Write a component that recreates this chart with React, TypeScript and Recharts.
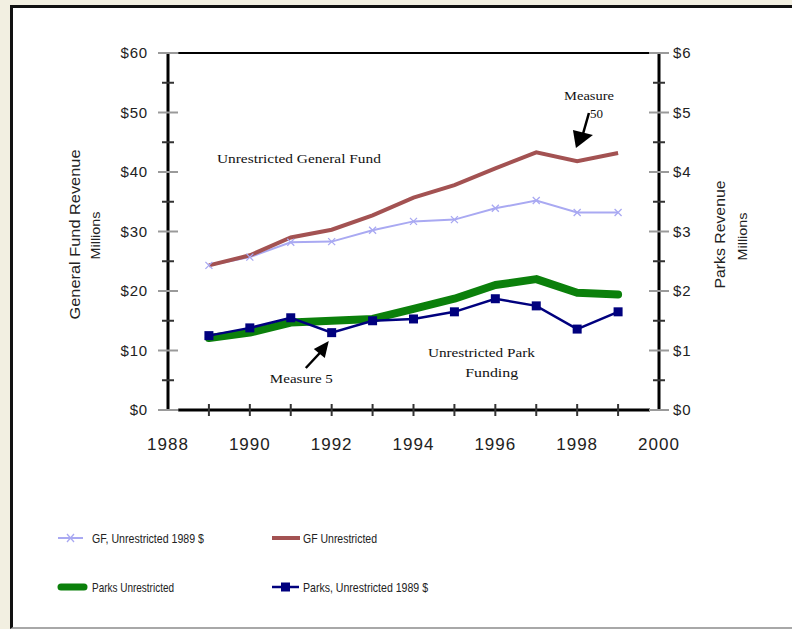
import React from 'react';
import { LineChart, Line, XAxis, YAxis, ReferenceLine, ReferenceDot, Legend } from 'recharts';

// ---------- data ----------
const years = [1989, 1990, 1991, 1992, 1993, 1994, 1995, 1996, 1997, 1998, 1999];
// General fund, $ millions (left axis)
const gfUnrestricted1989 = [24.3, 25.7, 28.2, 28.3, 30.2, 31.7, 32.0, 33.9, 35.2, 33.2, 33.2];
const gfUnrestricted = [24.3, 26.0, 29.0, 30.3, 32.7, 35.7, 37.8, 40.6, 43.3, 41.8, 43.2];
// Parks, $ millions (right axis)
const parksUnrestricted = [1.21, 1.3, 1.47, 1.5, 1.53, 1.7, 1.87, 2.1, 2.2, 1.97, 1.94];
const parksUnrestricted1989 = [1.25, 1.38, 1.55, 1.3, 1.5, 1.53, 1.65, 1.87, 1.75, 1.36, 1.65];

const seriesNames = ['GF, Unrestricted 1989 $', 'GF Unrestricted', 'Parks Unrestricted', 'Parks, Unrestricted 1989 $'];

const xTicks = [1988, 1989, 1990, 1991, 1992, 1993, 1994, 1995, 1996, 1997, 1998, 1999, 2000];
const leftTicks = [0, 5, 10, 15, 20, 25, 30, 35, 40, 45, 50, 55, 60];
const rightTicks = [0, 0.5, 1, 1.5, 2, 2.5, 3, 3.5, 4, 4.5, 5, 5.5, 6];

const annotations = [
  { text: 'Unrestricted General Fund', x: 1991.2, y: 41.5, w: 164 },
  { text: 'Measure', x: 1998.29, y: 52.1, w: 50 },
  { text: '50', x: 1998.47, y: 49.1, w: 13 },
  { text: 'Measure 5', x: 1991.26, y: 4.54, w: 63 },
  { text: 'Unrestricted Park', x: 1995.66, y: 8.9, w: 107 },
  { text: 'Funding', x: 1995.91, y: 5.55, w: 53 },
];
const arrowTips = [
  { x: 1997.97, y: 44.03, head: '0,0 -3,-18 17,-13', shaft: [13, -35, 7, -14] },
  { x: 1991.93, y: 11.6, head: '0,0 -15,8 -4,17', shaft: [-23, 27, -9, 12] },
];

const data = years.map((year, i) => ({
  year,
  gfReal: gfUnrestricted1989[i],
  gfNominal: gfUnrestricted[i],
  parksNominal: parksUnrestricted[i],
  parksReal: parksUnrestricted1989[i],
}));

// ---------- styles ----------
const sans = '"Liberation Sans", Arial, Helvetica, sans-serif';
const serif = '"Liberation Serif", "Times New Roman", serif';
const C = {
  lav: '#a9a9f2',
  brown: '#a35252',
  green: '#0b800b',
  navy: '#00007e',
};

const LeftTick = (props: any) => {
  const { x, y, payload } = props;
  const v = payload.value;
  const major = v % 10 === 0;
  return (
    <g>
      {major ? (
        <line x1={x - 10} x2={x + 10} y1={y} y2={y} stroke="#9a9a9a" strokeWidth={2} />
      ) : (
        <line x1={x - 6} x2={x + 6} y1={y} y2={y} stroke="#333" strokeWidth={2} />
      )}
      {major && (
        <text x={x - 20} y={y + 5} textAnchor="end" fontFamily={sans} fontSize={15} letterSpacing={0.8} fill="#222">
          {'$' + v}
        </text>
      )}
    </g>
  );
};

const RightTick = (props: any) => {
  const { x, y, payload } = props;
  const v = payload.value;
  const major = Math.abs(v - Math.round(v)) < 1e-6;
  return (
    <g>
      {major ? (
        <line x1={x - 10} x2={x + 10} y1={y} y2={y} stroke="#9a9a9a" strokeWidth={2} />
      ) : (
        <line x1={x - 6} x2={x + 6} y1={y} y2={y} stroke="#333" strokeWidth={2} />
      )}
      {major && (
        <text x={x + 14} y={y + 5} textAnchor="start" fontFamily={sans} fontSize={15} letterSpacing={0.8} fill="#222">
          {'$' + v}
        </text>
      )}
    </g>
  );
};

const XTick = (props: any) => {
  const { x, y, payload } = props;
  const v = payload.value;
  return (
    <g>
      {v > 1988 && v < 2000 && <line x1={x} x2={x} y1={y - 6} y2={y + 6} stroke="#333" strokeWidth={2} />}
      {v % 2 === 0 && (
        <text x={x} y={y + 40} textAnchor="middle" fontFamily={sans} fontSize={17} letterSpacing={1} fill="#222">
          {v}
        </text>
      )}
    </g>
  );
};

const LeftTitle = (props: any) => {
  const vb = props.viewBox || { x: 108, y: 53, width: 60, height: 357 };
  const ax = vb.x + vb.width;
  const cy = vb.y + vb.height / 2 + 3;
  return (
    <g>
      <text transform={`translate(${ax - 88},${cy}) rotate(-90)`} textAnchor="middle" fontFamily={sans} fontSize={15}
        textLength={170} lengthAdjust="spacingAndGlyphs" fill="#222">General Fund Revenue</text>
      <text transform={`translate(${ax - 68},${cy + 1}) rotate(-90)`} textAnchor="middle" fontFamily={sans} fontSize={13}
        textLength={48} lengthAdjust="spacingAndGlyphs" fill="#222">Millions</text>
    </g>
  );
};

const RightTitle = (props: any) => {
  const vb = props.viewBox || { x: 659, y: 53, width: 60, height: 357 };
  const ax = vb.x;
  const cy = vb.y + vb.height / 2 + 3;
  return (
    <g>
      <text transform={`translate(${ax + 66},${cy}) rotate(-90)`} textAnchor="middle" fontFamily={sans} fontSize={15}
        textLength={108} lengthAdjust="spacingAndGlyphs" fill="#222">Parks Revenue</text>
      <text transform={`translate(${ax + 88},${cy + 2}) rotate(-90)`} textAnchor="middle" fontFamily={sans} fontSize={13}
        textLength={48} lengthAdjust="spacingAndGlyphs" fill="#222">Millions</text>
    </g>
  );
};

const CrossDot = (props: any) => {
  const { cx, cy } = props;
  if (cx == null || cy == null) return <g />;
  return (
    <path d={`M${cx - 3.5},${cy - 3.5}L${cx + 3.5},${cy + 3.5}M${cx - 3.5},${cy + 3.5}L${cx + 3.5},${cy - 3.5}`}
      stroke={C.lav} strokeWidth={1.3} fill="none" />
  );
};

const SquareDot = (props: any) => {
  const { cx, cy } = props;
  if (cx == null || cy == null) return <g />;
  return <rect x={cx - 4.5} y={cy - 4.5} width={9} height={9} fill={C.navy} />;
};

const makeTextShape = (t: string, w: number) => (p: any) => (
  <text x={p.cx} y={p.cy} textAnchor="middle" fontFamily={serif} fontSize={13} textLength={w}
    lengthAdjust="spacingAndGlyphs" fill="#111">{t}</text>
);

const makeArrowShape = (head: string, shaft: number[]) => (p: any) => {
  const pts = head.split(' ').map((s) => {
    const [a, b] = s.split(',').map(Number);
    return `${p.cx + a},${p.cy + b}`;
  }).join(' ');
  return (
    <g>
      <line x1={p.cx + shaft[0]} y1={p.cy + shaft[1]} x2={p.cx + shaft[2]} y2={p.cy + shaft[3]} stroke="#000" strokeWidth={2.5} />
      <polygon points={pts} fill="#000" />
    </g>
  );
};

const legendKinds = ['gfReal', 'gfNominal', 'parksNominal', 'parksReal'];

const LegendContent = () => {
  const cells = [
    { x: 58, y: 28, w: 112 },
    { x: 272, y: 28, w: 74 },
    { x: 58, y: 77, w: 82 },
    { x: 272, y: 77, w: 125 },
  ];
  return (
    <svg width={792} height={100} style={{ display: 'block' }}>
      {legendKinds.map((k, i) => {
        const c = cells[i];
        let icon: any = null;
        if (k === 'gfReal') {
          icon = (
            <g>
              <line x1={c.x} x2={c.x + 25} y1={c.y} y2={c.y} stroke={C.lav} strokeWidth={2} />
              <path d={`M${c.x + 9},${c.y - 4}L${c.x + 16},${c.y + 4}M${c.x + 9},${c.y + 4}L${c.x + 16},${c.y - 4}`} stroke={C.lav} strokeWidth={1.3} />
            </g>
          );
        } else if (k === 'gfNominal') {
          icon = <line x1={c.x} x2={c.x + 28} y1={c.y} y2={c.y} stroke={C.brown} strokeWidth={4} />;
        } else if (k === 'parksNominal') {
          icon = <line x1={c.x + 3} x2={c.x + 26} y1={c.y} y2={c.y} stroke={C.green} strokeWidth={7} strokeLinecap="round" />;
        } else {
          icon = (
            <g>
              <line x1={c.x} x2={c.x + 27} y1={c.y} y2={c.y} stroke={C.navy} strokeWidth={2.5} />
              <rect x={c.x + 9} y={c.y - 4.5} width={9} height={9} fill={C.navy} />
            </g>
          );
        }
        const tx = i % 2 === 0 ? 92 : 303;
        return (
          <g key={k}>
            {icon}
            <text x={tx} y={c.y + 5} fontFamily={sans} fontSize={13} textLength={c.w} lengthAdjust="spacingAndGlyphs" fill="#222">
              {seriesNames[i]}
            </text>
          </g>
        );
      })}
    </svg>
  );
};

export default function App() {
  return (
    <div style={{ position: 'absolute', left: 0, top: 0, width: 792, height: 629, background: '#f2efe1', overflow: 'hidden' }}>
      <div
        style={{
          position: 'absolute', left: 10, top: 5, width: 800, height: 624, background: '#fff',
          borderLeft: '3px solid #111', borderTop: '3px solid #111', borderBottom: '2px solid #a8a8a8', boxSizing: 'border-box',
        }}
      />
      <div style={{ position: 'absolute', left: 0, top: 0 }}>
        <LineChart width={792} height={629} data={data} margin={{ top: 53, right: 73, bottom: 179, left: 108 }}>
          <XAxis dataKey="year" type="number" domain={[1988, 2000]} ticks={xTicks} interval={0}
            axisLine={false} tickLine={false} tickSize={0} tickMargin={0} tick={<XTick />} height={40} />
          <YAxis yAxisId="left" orientation="left" domain={[0, 60]} ticks={leftTicks} interval={0} width={60}
            axisLine={{ stroke: '#000', strokeWidth: 3 }} tickLine={false} tickSize={0} tickMargin={0}
            tick={<LeftTick />} label={LeftTitle} />
          <YAxis yAxisId="right" orientation="right" domain={[0, 6]} ticks={rightTicks} interval={0} width={60}
            axisLine={{ stroke: '#000', strokeWidth: 3 }} tickLine={false} tickSize={0} tickMargin={0}
            tick={<RightTick />} label={RightTitle} />
          <ReferenceLine yAxisId="left" segment={[{ x: 1988.25, y: 60 }, { x: 1999.78, y: 60 }]} stroke="#000" strokeWidth={2} />
          <ReferenceLine yAxisId="left" segment={[{ x: 1988.25, y: 0 }, { x: 1999.78, y: 0 }]} stroke="#000" strokeWidth={3} />
          <Line yAxisId="left" dataKey="gfReal" name={seriesNames[0]} stroke={C.lav} strokeWidth={2} type="linear"
            dot={<CrossDot />} activeDot={false} isAnimationActive={false} />
          <Line yAxisId="left" dataKey="gfNominal" name={seriesNames[1]} stroke={C.brown} strokeWidth={4} type="linear"
            dot={false} activeDot={false} isAnimationActive={false} />
          <Line yAxisId="right" dataKey="parksNominal" name={seriesNames[2]} stroke={C.green} strokeWidth={8} type="linear"
            dot={false} activeDot={false} strokeLinecap="round" strokeLinejoin="round" isAnimationActive={false} />
          <Line yAxisId="right" dataKey="parksReal" name={seriesNames[3]} stroke={C.navy} strokeWidth={2.5} type="linear"
            dot={<SquareDot />} activeDot={false} isAnimationActive={false} />
          {annotations.map((a) => (
            <ReferenceDot key={a.text} yAxisId="left" x={a.x} y={a.y} r={0} shape={makeTextShape(a.text, a.w)} />
          ))}
          {arrowTips.map((a, i) => (
            <ReferenceDot key={'arrow' + i} yAxisId="left" x={a.x} y={a.y} r={0} shape={makeArrowShape(a.head, a.shaft)} />
          ))}
          <Legend layout="horizontal" verticalAlign="middle" align="center" content={<LegendContent />}
            wrapperStyle={{ top: 510, left: 0, width: 792, height: 100 }} />
        </LineChart>
      </div>
    </div>
  );
}
